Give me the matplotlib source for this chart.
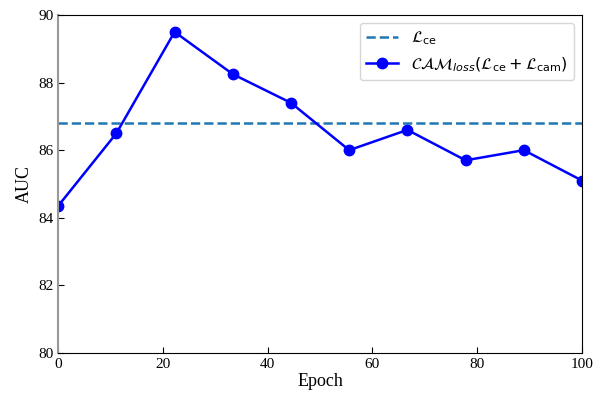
import matplotlib
import numpy as np

matplotlib.use("Agg")
import matplotlib.pyplot as plt  # noqa: E402

epochs = np.linspace(0, 100, 10)
auc_cam = [84.35, 86.5, 89.5, 88.25, 87.4, 86.0, 86.6, 85.7, 86.0, 85.1]
auc_ce = 86.8

plt.rcParams["font.family"] = ["Liberation Serif", "DejaVu Serif"]
plt.rcParams["mathtext.fontset"] = "dejavusans"

fig = plt.figure(figsize=(6, 3.96), dpi=100)
ax = fig.add_axes([0.097, 0.109, 0.873, 0.853])
ax.axhline(auc_ce, color="#1f77b4", ls="--", lw=1.8, label=r"$\mathcal{L}_{\mathrm{ce}}$")
ax.plot(epochs, auc_cam, color="blue", marker="o", ms=7.5, lw=1.8,
        label=r"$\mathcal{CAM}_{loss}(\mathcal{L}_{\mathrm{ce}}+\mathcal{L}_{\mathrm{cam}})$")
ax.set_xlim(0, 100)
ax.set_ylim(80, 90)
ax.set_xticks(range(0, 101, 20))
ax.set_yticks(range(80, 91, 2))
ax.tick_params(direction="in", labelsize=11, length=4)
ax.spines["left"].set_color("#999999")
ax.spines["left"].set_linewidth(1.5)
ax.set_xlabel("Epoch", fontsize=13, labelpad=2)
ax.set_ylabel("AUC", fontsize=13)
ax.legend(loc="upper right", prop={"family": "DejaVu Sans", "size": 11.5})
fig.savefig("out.png", dpi=100)
